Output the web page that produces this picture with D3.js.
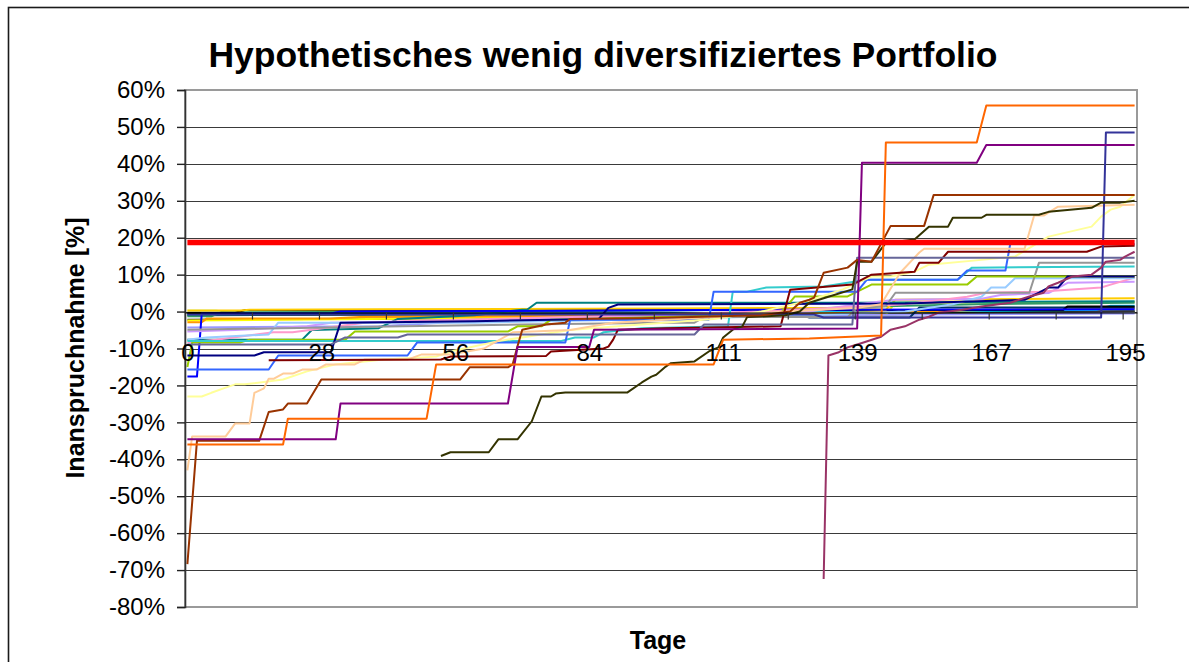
<!DOCTYPE html>
<html><head><meta charset="utf-8">
<script src="https://cdn.jsdelivr.net/npm/d3@7"></script>
<style>
html,body{margin:0;padding:0;background:#fff;}
svg{display:block;font-family:"Liberation Sans",Arial,Helvetica,sans-serif;}
</style></head>
<body><svg id="c" width="1189" height="662"></svg>
<script>
// ---- data ----
const title = "Hypothetisches wenig diversifiziertes Portfolio";
const yTitle = "Inanspruchnahme [%]";
const xTitle = "Tage";
const categoryCount = 199;               // category indices 0..198
const xLabelIndex = [0, 28, 56, 84, 112, 140, 168, 196];
const xLabels = ["0", "28", "56", "84", "111", "139", "167", "195"];
const yTicks = [-80, -70, -60, -50, -40, -30, -20, -10, 0, 10, 20, 30, 40, 50, 60];
const thresholdValue = 18.7;

const sNavy = [[0,-11.9],[14,-11.9],[16,-11],[30,-11],[32,-3],[60,-2.6],[86,-2],[88,1],[90,1.9],[150,2.2],[175,3.2],[178,5.1],[180,6.5],[182,6.5],[184,9.5],[198,9.5]];
const sMint = [[0,0.3],[6,0.3],[8,-0.4],[198,-0.1]];
const sDkGreen = [[0,-1],[50,-0.8],[100,-0.5],[150,-0.2],[198,0.1]];
const sDkGrey = [[0,-2.2],[60,-1.8],[110,-1.2],[160,-0.6],[198,0]];
const sYellow = [[0,-2.4],[50,-1.9],[100,-1],[146,-0.8],[148,2.4],[198,2.6]];
const sPeri = [[0,-4.3],[40,-4],[56,-2.8],[90,-2],[130,-1],[198,-0.5]];
const sSky = [[0,-0.8],[100,-0.5],[150,0],[190,0.5],[193,1.6],[198,1.6]];
const sLtOrange = [[0,-2.9],[3,-2.9],[4,-1.9],[30,-1.9],[36,-1.5],[100,-1],[130,-0.5],[170,0.5],[198,0.8]];
const sSeaGreen = [[0,-1.3],[5,-1.3],[7,-0.2],[60,0],[100,0.3],[130,0.8],[150,1.6],[165,2],[198,2.4]];
const sDkBlue = [[0,-0.5],[127,-0.5],[130,-1.6],[151,-1.6],[153,1.1],[198,1.1]];
const sBlack = [[0,-0.3],[10,-0.3],[12,0.4],[183,0.4],[184,1.4],[198,1.4]];
const sGold = [[0,0.3],[11,0.3],[13,0.5],[40,0.6],[100,0.8],[130,1],[146,0.5],[148,3.2],[198,3.6]];
const sTeal = [[0,-7.6],[24,-7.6],[26,-5],[40,-4.5],[44,-2],[60,-1],[70,0.5],[71,0.5],[73,2.4],[140,2.4],[198,2.8]];
const sBlue = [[0,-17.6],[2,-17.6],[3,-0.5],[30,-0.5],[32,0],[80,0.2],[120,0.5],[198,0.6]];
const sLavender = [[0,-5.4],[10,-5],[25,-4],[30,-3],[60,-2.5],[100,-1],[130,0],[140,2],[148,3.2],[166,3.5],[170,4.5],[180,5],[184,7.8],[198,8.1]];
const sPink = [[0,-8.4],[6,-7.6],[18,-5.6],[22,-5.6],[37,-3],[48,-2.5],[80,-1.5],[120,0],[150,2],[163,4],[167,5.1],[178,5.4],[191,6.5],[193,7.3],[198,9.2]];
const sLtBlue = [[0,-7.6],[4,-7],[17,-6.2],[19,-3],[60,-3],[100,-2],[130,-1],[150,0],[160,2],[166,4],[168,6.5],[171,6.5],[173,9],[198,9]];
const sGrey = [[0,-4.9],[20,-4.5],[45,-4],[70,-3.5],[100,-3],[106,-3],[108,-1.5],[138,-1.5],[140,1],[146,1.5],[148,5.1],[176,5.1],[178,13.2],[198,13.2]];
const sLime = [[0,-15],[1,-8.4],[11,-8.4],[13,-7.6],[33,-7.6],[35,-5.4],[67,-5.4],[69,-4],[74,-4],[76,-2.2],[100,-1.5],[124,-0.5],[127,4.1],[138,4.1],[143,7.3],[163,7.3],[165,9.5],[198,9.5]];
const sTurq = [[0,-8],[78,-8],[81,-7],[85,-7],[87,-5.6],[95,-4.5],[113,-4],[114,5.4],[117,5.4],[121,6.5],[133,6.8],[138,7.8],[142,8.6],[161,8.6],[164,11.9],[198,12.2]];
const sRoyal = [[0,-15.7],[17,-15.7],[19,-11.9],[46,-11.9],[48,-8.4],[79,-8.4],[80,-2.2],[109,-2.2],[110,5.4],[140,5.4],[142,8.6],[161,8.6],[163,11.1],[171,11.1],[172,18.3],[198,18.3]];
const sLtYellow = [[0,-23],[3,-23],[5,-22],[8,-20.6],[10,-19.7],[12,-19.7],[20,-18.4],[25,-16.2],[31,-14.3],[35,-13.8],[41,-13],[52,-12.2],[55,-10.8],[65,-8],[80,-5],[90,-4],[110,-2],[120,0],[130,3],[137,6],[143,9.5],[147,9.5],[152,10.8],[155,12.7],[166,14],[173,14.9],[180,20.3],[189,23],[191,25.7],[193,27.6],[195,28.4],[198,31.6]];
const sPeach = [[0,-43],[1,-33.8],[8,-33.8],[10,-30.3],[13,-30.3],[14,-22],[16,-20.8],[17,-18.2],[18,-18.2],[20,-16.8],[22,-16.8],[24,-15.7],[27,-15.7],[29,-14.3],[35,-14.3],[37,-13],[46,-13],[49,-11.6],[55,-11.6],[62,-10],[68,-5.6],[80,-5],[89,-3],[110,-1.5],[125,0],[140,1],[145,2],[146,4.1],[149,10.5],[153,16],[154,17],[175,17],[177,26],[179,26],[182,28.4],[198,28.9]];
const sMaroon = [[17,-13.2],[53,-13],[55,-12.2],[75,-12],[76,-10.8],[87,-10],[88,-9.5],[89,-7.6],[90,-4.9],[100,-4.5],[124,-4],[126,5.9],[139,7.3],[143,10],[152,10.8],[153,13.2],[157,13.2],[159,16.2],[188,16.2],[191,17.6],[198,17.8]];
const sSlate = [[0,-8.9],[30,-8.9],[33,-7],[44,-7],[46,-6.2],[106,-6.2],[108,-3.5],[139,-3.5],[140,14.6],[198,14.6]];
const sIndigo = [[0,-0.8],[131,-0.8],[133,-1.6],[191,-1.6],[192,48.5],[198,48.5]];
const sPlum = [[133,-72.4],[134,-11.9],[136,-11.1],[138,-9.7],[141,-8.5],[145,-6.8],[147,-4.9],[150,-4],[153,-2.2],[155,-1.4],[157,-0.3],[162,0.5],[166,1.4],[172,2.4],[176,4.1],[179,5.1],[180,6.8],[182,7.8],[185,9.5],[189,10],[191,11.9],[192,13.5],[195,14],[196,14.9],[198,16.2]];
const sOlive = [[53,-39.1],[55,-38.1],[63,-38.1],[65,-34.6],[69,-34.6],[72,-29.7],[74,-23],[76,-23],[77,-22.2],[79,-21.9],[92,-21.9],[95,-19.2],[97,-17.6],[98,-17.1],[100,-14.9],[101,-14],[106,-13.5],[109,-10.8],[111,-9.7],[112,-7],[114,-4.9],[116,-4],[117,-1.5],[125,-1],[128,0],[130,2.4],[134,4],[139,6],[140,13.5],[143,13.5],[146,18.6],[152,19.5],[155,23],[159,23],[160,25.4],[166,25.4],[167,26.2],[178,26.2],[180,27],[189,28.1],[191,29.5],[195,29.5],[198,30]];
const sBrown = [[0,-68.4],[2,-35],[15,-35],[17,-27.2],[20,-26.5],[21,-24.9],[25,-24.9],[28,-18.4],[57,-18.4],[59,-15.1],[67,-15.1],[68,-14.3],[69,-9.4],[70,-4.9],[75,-3.5],[79,-3],[80,-2],[95,-1.8],[120,-1],[126,0],[128,2.4],[130,3.2],[131,3.8],[133,10.5],[138,11.9],[140,14],[143,13.5],[147,23.2],[154,23.2],[156,31.6],[198,31.6]];
const sPurple = [[0,-34.6],[31,-34.6],[32,-24.9],[67,-24.9],[69,-9.6],[84,-9.6],[85,-4.9],[140,-4.6],[141,40.3],[165,40.3],[167,45.1],[198,45.1]];
const sOrange = [[0,-36],[20,-36],[21,-29],[50,-29],[52,-14.3],[110,-14.3],[112,-7.6],[130,-7.3],[145,-6.5],[146,45.8],[165,45.8],[167,55.8],[198,55.8]];

const seriesList = [
  [sMint,"#CCFFCC"],[sDkGreen,"#003300"],[sDkGrey,"#333333"],[sYellow,"#FFFF00"],[sPeri,"#9999FF"],
  [sSky,"#00CCFF"],[sLtOrange,"#FF9900"],[sSeaGreen,"#339966"],[sDkBlue,"#003366"],[sBlack,"#000000"],
  [sGold,"#FFCC00"],[sTeal,"#008080"],[sBlue,"#0000FF"],[sLavender,"#CC99FF"],[sPink,"#FF99CC"],
  [sLtBlue,"#99CCFF"],[sGrey,"#969696"],[sLime,"#99CC00"],[sTurq,"#33CCCC"],[sNavy,"#000080"],
  [sRoyal,"#3366FF"],[sLtYellow,"#FFFF99"],[sPeach,"#FFCC99"],[sMaroon,"#800000"],[sSlate,"#666699"],
  [sIndigo,"#333399"],[sPlum,"#993366"],[sOlive,"#333300"],[sBrown,"#993300"],[sPurple,"#800080"],[sOrange,"#FF6600"]
];

// ---- layout ----
const svg = d3.select("#c");
const L = 185, R = 1137, T = 90, B = 607;
const x = d3.scaleLinear().domain([-0.5, categoryCount - 0.5]).range([L, R]);
const y = d3.scaleLinear().domain([-80, 60]).range([B, T]);
const crisp = v => Math.round(v) + 0.5;

// outer chart border
svg.append("rect").attr("x", 8.5).attr("y", 7.5).attr("width", 1200).attr("height", 700)
  .attr("fill", "#fff").attr("stroke", "#1a1a1a").attr("stroke-width", 1.6);

// title
svg.append("text").attr("x", 603).attr("y", 67).attr("text-anchor", "middle")
  .attr("font-size", "35.5px").attr("font-weight", "bold").attr("fill", "#000").text(title);

// plot frame
svg.append("rect").attr("x", L).attr("y", T).attr("width", R - L).attr("height", B - T)
  .attr("fill", "#fff").attr("stroke", "#9a9a9a").attr("stroke-width", 2);

// gridlines
svg.append("g").selectAll("line").data(yTicks.filter(v => v > -80 && v < 60)).join("line")
  .attr("x1", L).attr("x2", R).attr("y1", d => crisp(y(d))).attr("y2", d => crisp(y(d)))
  .attr("stroke", "#3a3a3a").attr("stroke-width", 1);

// series
const line = d3.line().x(d => x(d[0])).y(d => y(d[1]));
const gS = svg.append("g").attr("fill", "none").attr("stroke-linejoin", "round");
seriesList.forEach(([data, col]) => {
  gS.append("path").attr("d", line(data)).attr("stroke", col).attr("stroke-width", 2);
});

// threshold line
svg.append("path").attr("d", line([[0, thresholdValue], [categoryCount - 1, thresholdValue]]))
  .attr("stroke", "#FF0000").attr("stroke-width", 5.5).attr("fill", "none");

// y axis
const yAxis = svg.append("g").attr("transform", `translate(${L},0)`)
  .call(d3.axisLeft(y).tickValues(yTicks).tickSize(8).tickPadding(12).tickFormat(d => d + "%"));
yAxis.select(".domain").attr("stroke", "#333").attr("stroke-width", 1.6);
yAxis.selectAll(".tick line").attr("stroke", "#222").attr("stroke-width", 1.4);
yAxis.selectAll("text").attr("font-size", "24px").attr("fill", "#000")
  .attr("font-family", "Liberation Sans, Arial, sans-serif");

// x axis at 0%
const y0 = crisp(y(0));
const xAxis = svg.append("g").attr("transform", `translate(0,${y0})`)
  .call(d3.axisBottom(x).tickValues(xLabelIndex).tickSize(0).tickPadding(31)
    .tickFormat((d, i) => xLabels[i]));
xAxis.select(".domain").attr("stroke", "#000").attr("stroke-width", 1.2);
xAxis.selectAll("text").attr("font-size", "24px").attr("fill", "#000")
  .attr("font-family", "Liberation Sans, Arial, sans-serif");
const minorTicks = d3.range(14, categoryCount, 14).map(v => v - 0.5);
svg.append("g").attr("transform", `translate(0,${y0})`)
  .call(d3.axisBottom(x).tickValues(minorTicks).tickSize(7).tickFormat(""))
  .call(g => g.select(".domain").remove())
  .selectAll("line").attr("stroke", "#333").attr("stroke-width", 1.2);

// axis titles
svg.append("text").attr("transform", "translate(84,348) rotate(-90)").attr("text-anchor", "middle")
  .attr("font-size", "25px").attr("font-weight", "bold").text(yTitle);
svg.append("text").attr("x", 658).attr("y", 649).attr("text-anchor", "middle")
  .attr("font-size", "25px").attr("font-weight", "bold").text(xTitle);
</script></body></html>
